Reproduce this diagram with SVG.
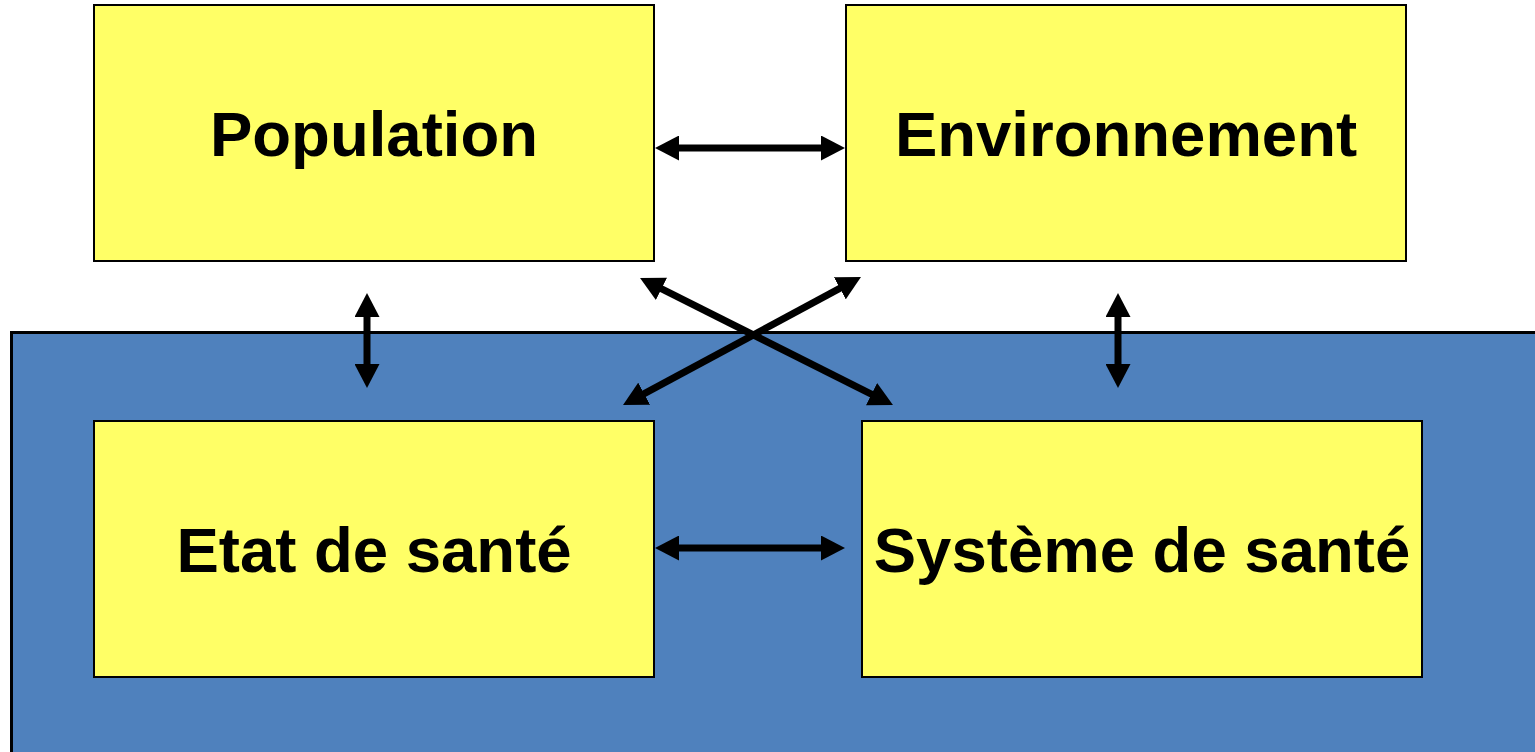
<svg xmlns="http://www.w3.org/2000/svg" width="1535" height="752" viewBox="0 0 1535 752">
<style>
.box{fill:#FFFF66;stroke:#000;stroke-width:2}
.lbl{font-family:"Liberation Sans",Arial,sans-serif;font-weight:bold;font-size:63.5px;fill:#000;text-anchor:middle}
.con{stroke:#000;stroke-width:7;fill:none;marker-start:url(#ah);marker-end:url(#ah)}
</style>
<defs>
<marker id="ah" markerUnits="userSpaceOnUse" markerWidth="24" markerHeight="25" viewBox="0 0 24 25" refX="2" refY="12.5" orient="auto-start-reverse">
<path d="M0,0 L24,12.5 L0,25 z" fill="#000"/>
</marker>
</defs>
<rect width="1535" height="752" fill="#fff"/>
<g id="background">
<rect x="11.5" y="332.5" width="1530" height="430" fill="#4F81BD" stroke="#000" stroke-width="3"/>
</g>
<g id="population">
<rect class="box" x="94" y="5" width="560" height="256"/>
<text class="lbl" x="374" y="156">Population</text>
</g>
<g id="environnement">
<rect class="box" x="846" y="5" width="560" height="256"/>
<text class="lbl" x="1126" y="156">Environnement</text>
</g>
<g id="etat">
<rect class="box" x="94" y="421" width="560" height="256"/>
<text class="lbl" x="374" y="572">Etat de santé</text>
</g>
<g id="systeme">
<rect class="box" x="862" y="421" width="560" height="256"/>
<text class="lbl" x="1142" y="572">Système de santé</text>
</g>
<g id="connectors">
<line class="con" x1="677" y1="148" x2="823" y2="148"/>
<line class="con" x1="677" y1="548" x2="823" y2="548"/>
<line class="con" x1="367" y1="315" x2="367" y2="366"/>
<line class="con" x1="1118" y1="315" x2="1118" y2="366"/>
<line class="con" x1="659.7" y1="287.9" x2="873.3" y2="395.1"/>
<line class="con" x1="841.6" y1="287.4" x2="642.4" y2="394.6"/>
</g>
</svg>
